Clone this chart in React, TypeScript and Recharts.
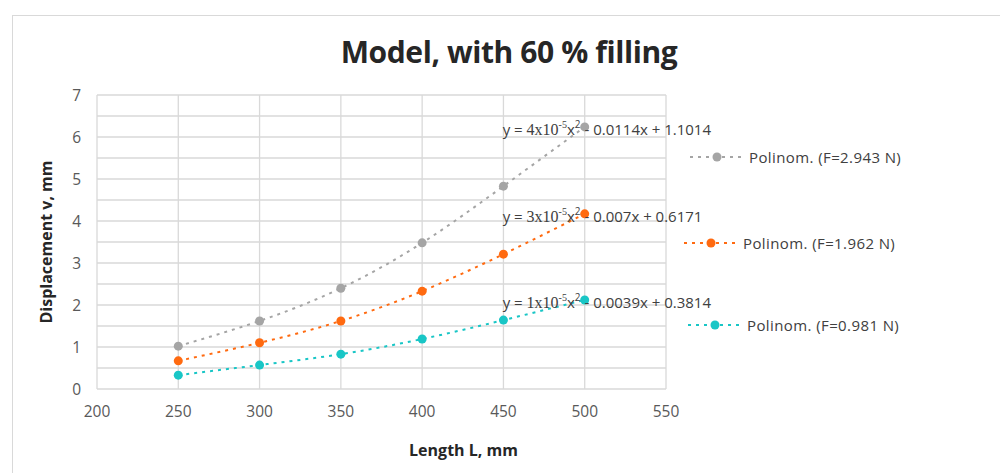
import {
  LineChart,
  Line,
  XAxis,
  YAxis,
  CartesianGrid,
  Legend,
  LabelList,
  ReferenceLine,
} from "recharts";

const lengths = [250, 300, 350, 400, 450, 500];
const dispF2943 = [1.02, 1.62, 2.4, 3.48, 4.83, 6.24];
const dispF1962 = [0.67, 1.1, 1.62, 2.33, 3.21, 4.17];
const dispF0981 = [0.33, 0.57, 0.83, 1.19, 1.64, 2.12];

const seriesNames = [
  "Polinom. (F=2.943 N)",
  "Polinom. (F=1.962 N)",
  "Polinom. (F=0.981 N)",
];
const eqCoef = ["4", "3", "1"];
const eqLinear = ["0.0114", "0.007", "0.0039"];
const eqConst = ["1.1014", "0.6171", "0.3814"];

const xTicks = [200, 250, 300, 350, 400, 450, 500, 550];
const yTicks = [0, 1, 2, 3, 4, 5, 6, 7];
const yGrid = [0, 0.5, 1, 1.5, 2, 2.5, 3, 3.5, 4, 4.5, 5, 5.5, 6, 6.5, 7];

const colors = ["#a5a5a5", "#ff6a10", "#19c6c6"];
const keys = ["f2943", "f1962", "f0981"];

const data = lengths.map((L, i) => ({
  L,
  f2943: dispF2943[i],
  f1962: dispF1962[i],
  f0981: dispF0981[i],
}));

const sans = "'Open Sans', 'Noto Sans', sans-serif";
const serif = "'Liberation Serif', 'DejaVu Serif', serif";

function Equation(props: any, s: number) {
  const { x, y, index } = props;
  if (index !== lengths.length - 1) return null;
  return (
    <text x={x - 82} y={y + 8} fontSize={15} fill="#404040" fontFamily={sans}>
      <tspan>y = </tspan>
      <tspan fontFamily={serif} fontSize={16}>{"  " + eqCoef[s]}x10</tspan>
      <tspan fontFamily={serif} fontSize={10} dy={-7}>-5</tspan>
      <tspan dy={7}>x</tspan>
      <tspan fontSize={10} dy={-7}>2</tspan>
      <tspan dy={7}>{"  - " + eqLinear[s] + "x + " + eqConst[s]}</tspan>
    </text>
  );
}

const legendPos = [
  { left: 680, top: 139 },
  { left: 674, top: 225 },
  { left: 678, top: 307 },
];

function LegendBox() {
  return (
    <div style={{ position: "relative", width: 0, height: 0 }}>
      {seriesNames.map((name, i) => (
        <div
          key={name}
          style={{
            position: "absolute",
            left: legendPos[i].left,
            top: legendPos[i].top,
            display: "flex",
            alignItems: "center",
            whiteSpace: "nowrap",
            fontFamily: sans,
            fontSize: 15,
            color: "#404040",
            letterSpacing: 0.4,
          }}
        >
          <svg width={58} height={12}>
            <line
              x1={2}
              y1={6}
              x2={56}
              y2={6}
              stroke={colors[i]}
              strokeWidth={2}
              strokeDasharray="3 5"
            />
            <circle cx={29} cy={6} r={4.5} fill={colors[i]} />
          </svg>
          <span style={{ marginLeft: 3 }}>{name}</span>
        </div>
      ))}
    </div>
  );
}

function App() {
  return (
    <div
      style={{
        position: "relative",
        width: 1000,
        height: 465,
        overflow: "hidden",
        background: "#fff",
      }}
    >
      <div
        style={{
          position: "absolute",
          left: 4,
          top: 7,
          width: 994,
          height: 500,
          border: "1.5px solid #d9d9d9",
          boxSizing: "border-box",
        }}
      />
      <div
        style={{
          position: "absolute",
          left: 0,
          top: 23,
          width: 1002,
          textAlign: "center",
          fontFamily: sans,
          fontWeight: 700,
          fontSize: 30,
          color: "#262626",
          letterSpacing: -0.4,
        }}
      >
        Model, with 60 % filling
      </div>
      <LineChart
        width={1000}
        height={465}
        data={data}
        margin={{ top: 87, right: 342, bottom: 14, left: 29 }}
        style={{ position: "absolute", left: 0, top: 0 }}
      >
        <CartesianGrid stroke="#d9d9d9" strokeWidth={1.3} horizontal={false} />
        {yGrid.map((v) => (
          <ReferenceLine key={v} y={v} stroke="#d9d9d9" strokeWidth={1.3} />
        ))}
        <XAxis
          type="number"
          dataKey="L"
          domain={[200, 550]}
          ticks={xTicks}
          interval={0}
          height={70}
          axisLine={false}
          tickLine={false}
          tickSize={0}
          tickMargin={17}
          tick={{ fill: "#595959", fontSize: 15.5, fontFamily: sans }}
          label={{
            value: "Length L, mm",
            position: "insideBottom",
            offset: 3,
            dx: 82,
            style: {
              fill: "#262626",
              fontSize: 16,
              fontWeight: 700,
              fontFamily: sans,
            },
          }}
        />
        <YAxis
          type="number"
          domain={[0, 7]}
          ticks={yTicks}
          interval={0}
          width={60}
          axisLine={false}
          tickLine={false}
          tickSize={0}
          tickMargin={16}
          tick={{ fill: "#595959", fontSize: 15.5, fontFamily: sans }}
          label={{
            value: "Displacement v, mm",
            angle: -90,
            position: "insideLeft",
            offset: 9,
            style: {
              textAnchor: "middle",
              fill: "#262626",
              fontSize: 16,
              fontWeight: 700,
              fontFamily: sans,
            },
          }}
        />
        <Legend content={() => <LegendBox />} wrapperStyle={{ left: 0, top: 0 }} />
        {keys.map((k, s) => (
          <Line
            key={k}
            dataKey={k}
            name={seriesNames[s]}
            type="natural"
            stroke={colors[s]}
            strokeWidth={2}
            strokeDasharray="3 5"
            dot={{ r: 4.5, fill: colors[s], stroke: colors[s], strokeWidth: 0 }}
            isAnimationActive={false}
          >
            <LabelList dataKey={k} content={(p: any) => Equation(p, s)} />
          </Line>
        ))}
      </LineChart>
    </div>
  );
}

export default App;
